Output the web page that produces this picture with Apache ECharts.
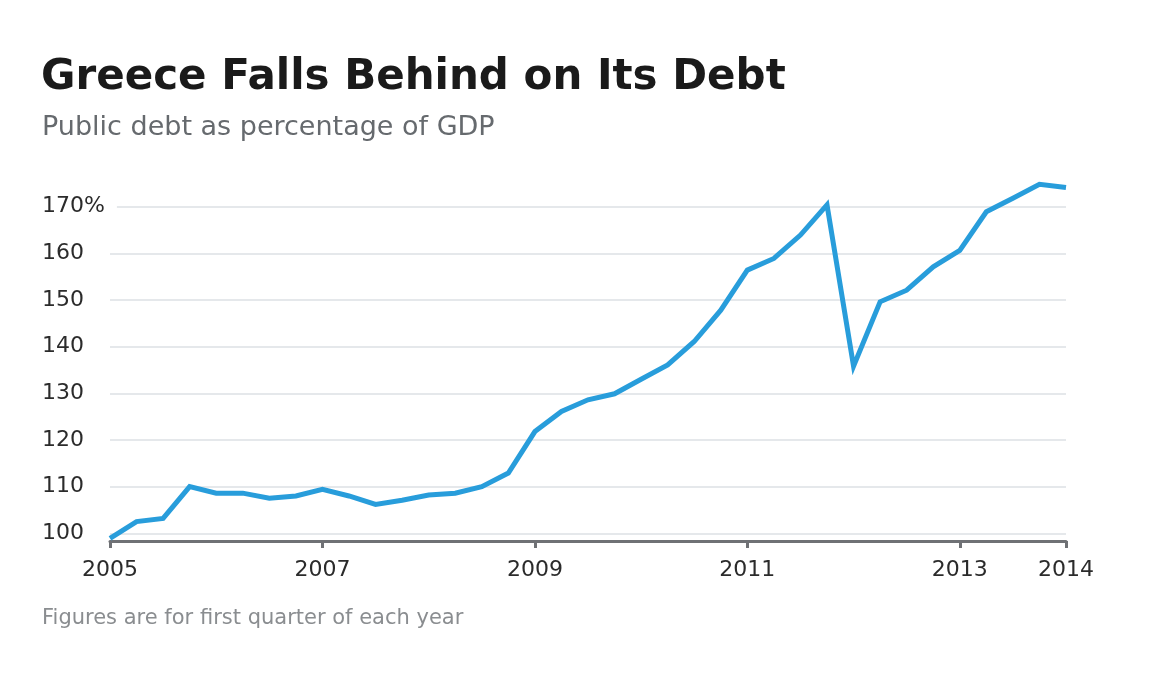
<!DOCTYPE html>
<html>
<head>
<meta charset="utf-8">
<script src="https://cdn.jsdelivr.net/npm/echarts@6/dist/echarts.min.js"></script>
<style>
html,body{margin:0;padding:0;background:#fff;}
#chart{width:1157px;height:688px;}
</style>
</head>
<body>
<div id="chart"></div>
<script>
// Quarterly categories 2005 Q1 .. 2014 Q1
const quarters = [
  '2005 Q1','2005 Q2','2005 Q3','2005 Q4',
  '2006 Q1','2006 Q2','2006 Q3','2006 Q4',
  '2007 Q1','2007 Q2','2007 Q3','2007 Q4',
  '2008 Q1','2008 Q2','2008 Q3','2008 Q4',
  '2009 Q1','2009 Q2','2009 Q3','2009 Q4',
  '2010 Q1','2010 Q2','2010 Q3','2010 Q4',
  '2011 Q1','2011 Q2','2011 Q3','2011 Q4',
  '2012 Q1','2012 Q2','2012 Q3','2012 Q4',
  '2013 Q1','2013 Q2','2013 Q3','2013 Q4',
  '2014 Q1'
];
// Public debt, % of GDP
const debt = [
  98.9, 102.5, 103.2, 110.0,
  108.6, 108.6, 107.5, 108.0,
  109.4, 108.0, 106.2, 107.1,
  108.2, 108.6, 110.0, 112.9,
  121.8, 126.1, 128.6, 129.9,
  133.0, 136.1, 141.1, 147.8,
  156.4, 158.9, 163.9, 170.4,
  135.8, 149.6, 152.1, 157.1,
  160.6, 168.9, 171.8, 174.8,
  174.1
];
// x-axis tick labels shown
const xTickLabels = ['2005 Q1','2007 Q1','2009 Q1','2011 Q1','2013 Q1','2014 Q1'];
const yTickValues = [100,110,120,130,140,150,160,170];

const titleText = 'Greece Falls Behind on Its Debt';
const subtitleText = 'Public debt as percentage of GDP';
const noteText = 'Figures are for first quarter of each year';

const chart = echarts.init(document.getElementById('chart'), null, {renderer:'canvas'});
const showIdx = (i) => xTickLabels.indexOf(quarters[i]) >= 0;

chart.setOption({
  backgroundColor: '#ffffff',
  animation: false,
  title: [
    {text: titleText, left: 41, top: 57, padding: 0,
     textStyle: {fontFamily: 'DejaVu Sans', fontWeight: 'bold', fontSize: 42, color: '#1a1a1a'}},
    {text: subtitleText, left: 42, top: 114, padding: 0,
     textStyle: {fontFamily: 'DejaVu Sans', fontWeight: 'normal', fontSize: 27, color: '#666a6e'}},
    {text: noteText, left: 42, top: 608, padding: 0,
     textStyle: {fontFamily: 'DejaVu Sans', fontWeight: 'normal', fontSize: 21, color: '#8a8d90'}}
  ],
  grid: {left: 110, right: 91, top: 183.3, bottom: 147, containLabel: false},
  xAxis: {
    type: 'category',
    data: quarters,
    boundaryGap: false,
    axisLine: {show: true, lineStyle: {color: '#6f7175', width: 3}},
    axisTick: {show: true, interval: (i) => showIdx(i), length: 7, lineStyle: {color: '#6f7175', width: 3}},
    axisLabel: {
      interval: (i) => showIdx(i),
      formatter: (v) => v.slice(0, 4),
      margin: 18,
      fontFamily: 'DejaVu Sans', fontSize: 22, color: '#2b2b2b'
    },
    splitLine: {show: false}
  },
  yAxis: {
    type: 'value',
    min: 98.35,
    max: 175,
    splitNumber: 8,
    axisLine: {show: false},
    axisTick: {show: false},
    axisLabel: {
      showMinLabel: false,
      showMaxLabel: false,
      align: 'left',
      margin: 68,
      fontFamily: 'DejaVu Sans', fontSize: 22, color: '#2b2b2b',
      formatter: (v) => {
        if (yTickValues.indexOf(v) < 0) return '';
        if (v === 170) return '{pct|' + v + '%}';
        return String(v);
      },
      rich: {
        pct: {fontFamily: 'DejaVu Sans', fontSize: 22, color: '#2b2b2b',
              backgroundColor: '#ffffff', padding: [2, 12, 2, 0]}
      }
    },
    splitLine: {show: true, showMinLine: false, showMaxLine: false,
                lineStyle: {color: '#dde0e4', width: 1.5}}
  },
  series: [{
    type: 'line',
    data: debt,
    symbol: 'none',
    clip: false,
    lineStyle: {color: '#289ddb', width: 5, join: 'miter'},
    z: 3
  }]
});
</script>
</body>
</html>
